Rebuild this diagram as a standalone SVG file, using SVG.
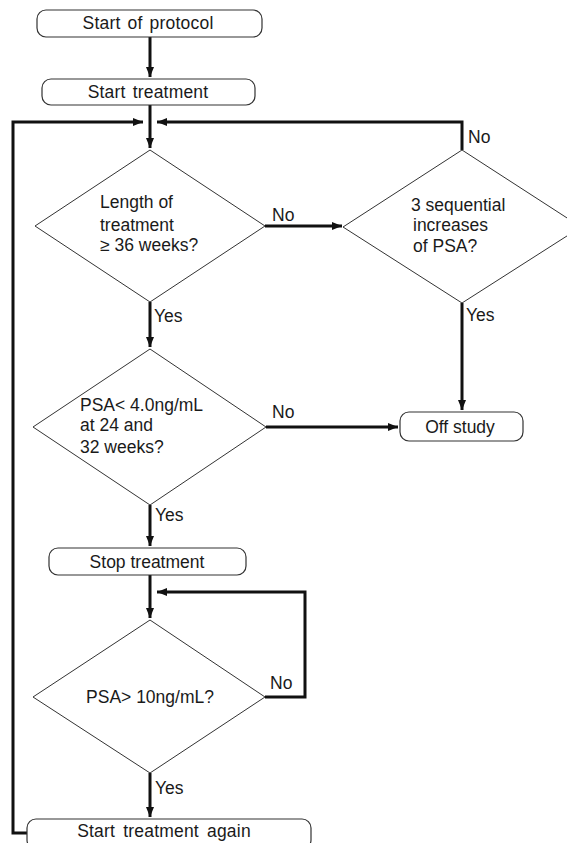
<svg xmlns="http://www.w3.org/2000/svg" width="567" height="843" viewBox="0 0 567 843">
<style>
.box{fill:#fff;stroke:#333;stroke-width:1.2}
.dia{fill:#fff;stroke:#333;stroke-width:1}
.t{font-family:"Liberation Sans",Arial,sans-serif;font-size:17.5px;fill:#1a1a1a}
.c{text-anchor:middle}
.ln{fill:none;stroke:#111;stroke-width:3}
</style>
<defs>
<marker id="ah" markerWidth="10" markerHeight="8" refX="10" refY="4" orient="auto" markerUnits="userSpaceOnUse">
<path d="M0,0 L10,4 L0,8 Z" fill="#111"/>
</marker>
</defs>
<rect width="567" height="843" fill="#fff"/>
<g id="connectors">
<path class="ln" d="M150,37 V77" marker-end="url(#ah)"/>
<path class="ln" d="M150,105 V148" marker-end="url(#ah)"/>
<path class="ln" d="M13,828 V122 H143" marker-end="url(#ah)"/>
<path class="ln" d="M13,828 V833 H27"/>
<path class="ln" d="M462,150 V122 H157" marker-end="url(#ah)"/>
<path class="ln" d="M265,226 H342" marker-end="url(#ah)"/>
<path class="ln" d="M462,303 V410" marker-end="url(#ah)"/>
<path class="ln" d="M150,302 V347" marker-end="url(#ah)"/>
<path class="ln" d="M266,427 H398" marker-end="url(#ah)"/>
<path class="ln" d="M150,505 V546" marker-end="url(#ah)"/>
<path class="ln" d="M150,575 V618" marker-end="url(#ah)"/>
<path class="ln" d="M265,697 H305 V592 H157" marker-end="url(#ah)"/>
<path class="ln" d="M150,773 V817" marker-end="url(#ah)"/>
<text class="t" x="272" y="221">No</text>
<text class="t" x="468" y="143">No</text>
<text class="t" x="466" y="321">Yes</text>
<text class="t" x="154" y="322">Yes</text>
<text class="t" x="272" y="418">No</text>
<text class="t" x="155" y="521">Yes</text>
<text class="t" x="270" y="689">No</text>
<text class="t" x="155" y="794">Yes</text>
</g>
<g id="start_protocol">
<rect class="box" x="37" y="10" width="225" height="27" rx="9"/>
<text class="t c" x="148" y="29" letter-spacing="0.2" word-spacing="2">Start of protocol</text>
</g>
<g id="start_treatment">
<rect class="box" x="42" y="79" width="213" height="26" rx="9"/>
<text class="t c" x="148" y="98" letter-spacing="0.2" word-spacing="2">Start treatment</text>
</g>
<g id="length_treatment">
<polygon class="dia" points="150,150 265,226 150,302 35,226"/>
<text class="t" x="100" y="208">Length of</text>
<text class="t" x="100" y="231">treatment</text>
<text class="t" x="100" y="251">≥ 36 weeks?</text>
</g>
<g id="sequential_psa">
<polygon class="dia" points="462,150 581,227 462,303 343,227"/>
<text class="t" x="411" y="211">3 sequential</text>
<text class="t" x="413" y="231">increases</text>
<text class="t" x="413" y="252">of PSA?</text>
</g>
<g id="psa_4">
<polygon class="dia" points="150,349 266,427 150,505 33,427"/>
<text class="t" x="80" y="411">PSA&lt; 4.0ng/mL</text>
<text class="t" x="80" y="431">at 24 and</text>
<text class="t" x="80" y="453">32 weeks?</text>
</g>
<g id="off_study">
<rect class="box" x="400" y="412" width="123" height="29" rx="9"/>
<text class="t c" x="460" y="433">Off study</text>
</g>
<g id="stop_treatment">
<rect class="box" x="49" y="548" width="197" height="27" rx="9"/>
<text class="t c" x="147" y="568">Stop treatment</text>
</g>
<g id="psa_10">
<polygon class="dia" points="150,620 265,697 150,773 33,697"/>
<text class="t c" x="150" y="703">PSA&gt; 10ng/mL?</text>
</g>
<g id="start_again">
<rect class="box" x="27" y="819" width="284" height="30" rx="9"/>
<text class="t c" x="164" y="837" letter-spacing="0.2" word-spacing="3">Start treatment again</text>
</g>
</svg>
